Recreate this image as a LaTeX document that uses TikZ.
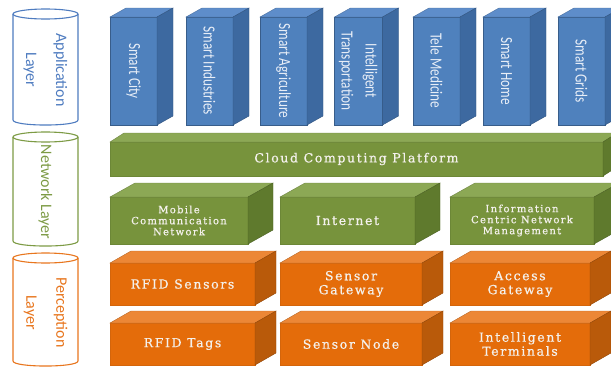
\documentclass[tikz,border=0pt]{standalone}
\usepackage{fontspec}
\usepackage{graphicx}
\usetikzlibrary{positioning}
\newfontfamily\colfont[FakeStretch=0.78]{Carlito}
\newfontfamily\cylfont{Carlito}
\newfontfamily\boxfont[LetterSpace=13, FakeBold=0.6]{DejaVu Serif}

\definecolor{bluefront}{HTML}{4F81BD}
\definecolor{bluetop}{HTML}{5E8DCA}
\definecolor{blueside}{HTML}{3D69A0}
\definecolor{blueline}{HTML}{385D8A}
\definecolor{bluetext}{HTML}{E8EEF7}
\definecolor{greenfront}{HTML}{77933C}
\definecolor{greentop}{HTML}{8CA855}
\definecolor{greenside}{HTML}{5F7A2D}
\definecolor{greenline}{HTML}{6C8737}
\definecolor{orangefront}{HTML}{E46C0A}
\definecolor{orangetop}{HTML}{EC8736}
\definecolor{orangeside}{HTML}{B95A0A}
\definecolor{orangeline}{HTML}{D4650B}
\definecolor{boxtext}{HTML}{F4F1EC}
\definecolor{appcyl}{HTML}{4F7CC0}
\definecolor{netcyl}{HTML}{7D9B45}
\definecolor{perccyl}{HTML}{E8761E}

% top and side faces of a box, hung on the front node
\newcommand{\boxfaces}[5]{%
  \filldraw[fill=#4, draw=#4!80!black, line width=0.4pt] (#1.north west) -- ++(#2,-#3)
    -- ([shift={(#2,-#3)}]#1.north east) -- (#1.north east) -- cycle;
  \filldraw[fill=#5, draw=#5!80!black, line width=0.4pt] (#1.north east)
    -- ([shift={(#2,-#3)}]#1.north east) -- ([shift={(#2,-#3)}]#1.south east) -- (#1.south east) -- cycle;
}
% layer cylinder: name, top, bottom, colour, label
\newcommand{\layercyl}[5]{%
  \draw[#4, line width=1.1pt, fill=white] (13,#2+5) -- (13,#3-5)
    .. controls (13,#3+1.7) and (78,#3+1.7) .. (78,#3-5) -- (78,#2+5);
  \draw[#4, line width=1.1pt] (45.5,#2+5) ellipse [x radius=32.5, y radius=5];
  \node[layer label=#4] (#1) at (45.5,{(#2+#3)/2+3}) {#5};
}

\begin{document}
\begin{tikzpicture}
  [
      x=1pt, y=-1pt,
      app col/.style={draw=blueline, fill=bluefront, minimum width=47pt, minimum height=108pt,
        inner sep=0pt, outer sep=0pt, text=bluetext, font=\colfont\fontsize{17}{24}\selectfont},
      layer box/.style={draw=#1line, fill=#1front, inner sep=0pt, outer sep=0pt, text=boxtext,
        align=center, font=\boxfont\fontsize{12.5}{14}\selectfont},
      small text/.style={font=\boxfont\fontsize{10}{11}\selectfont},
      layer label/.style={text=#1, rotate=-90, align=center, font=\cylfont\fontsize{16}{30}\selectfont}
    ]
    \clip (0,0) rectangle (611,367);
    % layers on the left
    \layercyl{applayer}{9}{125}{appcyl}{Application\\Layer}
    \layercyl{netlayer}{132}{246}{netcyl}{Network Layer}
    \layercyl{perclayer}{253}{366}{perccyl}{Perception\\Layer}
    % application layer
    \foreach \nm/\cx/\txt in {city/133.5/Smart City, ind/209.5/Smart Industries,
        agri/283.5/Smart Agriculture,
        trans/358.5/{\begin{tabular}{@{}c@{}}Intelligent\\Transportation\end{tabular}},
        med/436.5/Tele Medicine, home/506.5/Smart Home, grid/581.5/Smart Grids}
      {
        \node[app col] (\nm) at (\cx,71) {\rotatebox{-90}{\txt}};
        \boxfaces{\nm}{16}{9}{bluetop}{blueside}
      }
    % network layer
    \node[layer box=green, minimum width=493pt, minimum height=34pt] (cloud) at (356.5,159)
      {Cloud Computing Platform};
    \boxfaces{cloud}{14}{9}{greentop}{greenside}
    \node[layer box=green, small text, minimum width=138pt, minimum height=47pt] (mobile) at (179,220.5)
      {Mobile\\Communication\\Network};
    \node[layer box=green, minimum width=135pt, minimum height=47pt] (internet) at (347.5,220.5)
      {Internet};
    \node[layer box=green, small text, minimum width=144pt, minimum height=47pt] (icn) at (522,220.5)
      {Information\\Centric Network\\Management};
    \foreach \nm in {mobile,internet,icn}
      {\boxfaces{\nm}{25}{14}{greentop}{greenside}}
    % perception layer
    \foreach \nm/\cx/\cy/\w/\txt in {rfids/182.5/284/145/RFID Sensors, sgate/351/284/142/{Sensor\\Gateway},
        agate/520/284/140/{Access\\Gateway}, tags/182.5/344/145/RFID Tags,
        snode/351/344/142/Sensor Node, iterm/520/344/140/{Intelligent\\Terminals}}
      {
        \node[layer box=orange, minimum width=\w, minimum height=42pt] (\nm) at (\cx,\cy) {\txt};
        \boxfaces{\nm}{21}{12}{orangetop}{orangeside}
      }
  \end{tikzpicture}
\end{document}
